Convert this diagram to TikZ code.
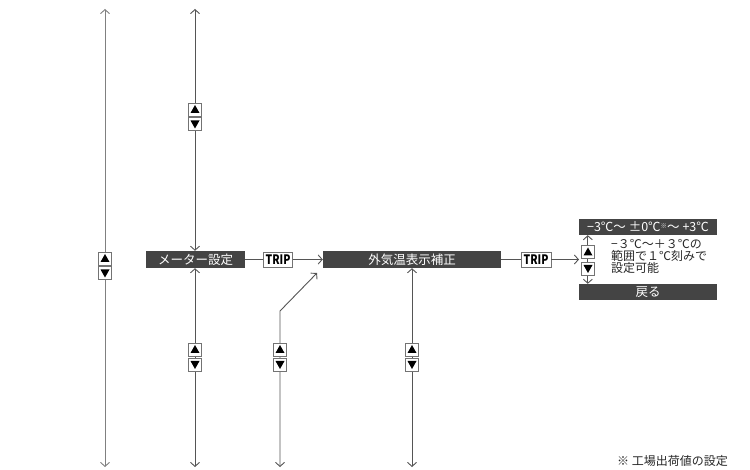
\documentclass[tikz,border=0pt]{standalone}
\usepackage{fontspec}
\setmainfont{Noto Sans CJK JP}
\usetikzlibrary{arrows.meta}
\definecolor{darkbox}{RGB}{68,68,68}
\definecolor{linegray}{RGB}{85,85,85}
\definecolor{btnedge}{RGB}{115,115,115}
\begin{document}
\begin{tikzpicture}[x=1pt,y=-1pt,
  conn/.style={draw=linegray, line width=0.9pt},
  tipend/.style={-{Straight Barb[length=4pt,width=9pt]}},
  tipboth/.style={{Straight Barb[length=4pt,width=9pt]}-{Straight Barb[length=4pt,width=9pt]}},
  darkbox/.style={fill=darkbox, text=white, inner sep=0pt, minimum height=17pt,
    font=\fontsize{12.5}{14}\selectfont},
  tripbox/.style={draw=btnedge, fill=white, line width=0.9pt, inner sep=0pt,
    minimum height=15pt, font=\fontsize{13}{14}\selectfont\bfseries},
  upbtn/.style={draw=btnedge, fill=white, line width=0.9pt, minimum width=13pt, minimum height=13pt, inner sep=0pt,
    path picture={\fill[black] (path picture bounding box.center) ++(-4.5,3.5) -- ++(9,0) -- ++(-4.5,-8) -- cycle;}},
  dnbtn/.style={draw=btnedge, fill=white, line width=0.9pt, minimum width=13pt, minimum height=13pt, inner sep=0pt,
    path picture={\fill[black] (path picture bounding box.center) ++(-4.5,-3.5) -- ++(9,0) -- ++(-4.5,8) -- cycle;}},
  note/.style={inner sep=0pt, text=black!85, font=\fontsize{12}{11.8}\selectfont, align=left}
]
\useasboundingbox (0,0) rectangle (750,470);

% main boxes
\node[darkbox, minimum width=99pt] (meter) at (195.5,259.5) {メーター設定};
\node[darkbox, minimum width=178pt] (gaiki) at (412,259.5) {外気温表示補正};
\node[tripbox, minimum width=29pt] (trip1) at (278,259.5) {\scalebox{0.8}[1]{TRIP}};
\node[tripbox, minimum width=30pt] (trip2) at (536,259.5) {\scalebox{0.8}[1]{TRIP}};

% right panel
\node[darkbox, minimum width=138pt, minimum height=16pt] (rtop) at (648,227)
  {−3℃～ ±0℃\raisebox{3pt}{\fontsize{6.5}{6.5}\selectfont ※}～ +3℃};
\node[darkbox, minimum width=138pt, minimum height=16pt] (rbot) at (648,292) {戻る};
\node[note, anchor=north west] (rtext) at (611,239.5) {−３℃～＋３℃の\\範囲で１℃刻みで\\設定可能};

% coordinates
\coordinate (L1t) at (105,9);
\coordinate (L1b) at (105,467);
\coordinate (L2t) at (195,9);
\coordinate (L2b) at (195,467);
\coordinate (L3b) at (280,467);
\coordinate (L3k) at (280,311);
\coordinate (L3e) at (317,273);
\coordinate (L4b) at (412,467);
\coordinate (Rin) at (579,259.5);

% connectors
\draw[conn, draw=linegray!75, tipboth] (L1t) -- (L1b);
\draw[conn, tipboth] (L2t) -- (meter.north -| L2t);
\draw[conn, tipboth] (meter.south -| L2b) -- (L2b);
\draw[conn, tipboth] (L3b) -- (L3k) -- (L3e);
\draw[conn, tipboth] (gaiki.south) -- (L4b);
\draw[conn] (meter.east) -- (trip1.west);
\draw[conn, tipend] (trip1.east) -- (gaiki.west);
\draw[conn] (gaiki.east) -- (trip2.west);
\draw[conn, tipend] (trip2.east) -- (Rin);
\draw[conn, tipboth] ([xshift=9pt]rtop.south west) -- ([xshift=9pt]rbot.north west);

% buttons
\node[upbtn] (b1u) at (105,258.5) {};
\node[dnbtn] (b1d) at (105,273) {};
\node[upbtn] (b2u) at (195,109.5) {};
\node[dnbtn] (b2d) at (195,124) {};
\node[upbtn] (b3u) at (195,349.5) {};
\node[dnbtn] (b3d) at (195,364.5) {};
\node[upbtn] (b4u) at (280,349.5) {};
\node[dnbtn] (b4d) at (280,364.5) {};
\node[upbtn] (b5u) at (412,349.5) {};
\node[dnbtn] (b5d) at (412,364.5) {};
\node[upbtn] (b6u) at (588,252) {};
\node[dnbtn] (b6d) at (588,268.5) {};

% footnote
\node[note, anchor=west] (foot) at (617,461) {※ 工場出荷値の設定};
\end{tikzpicture}
\end{document}
